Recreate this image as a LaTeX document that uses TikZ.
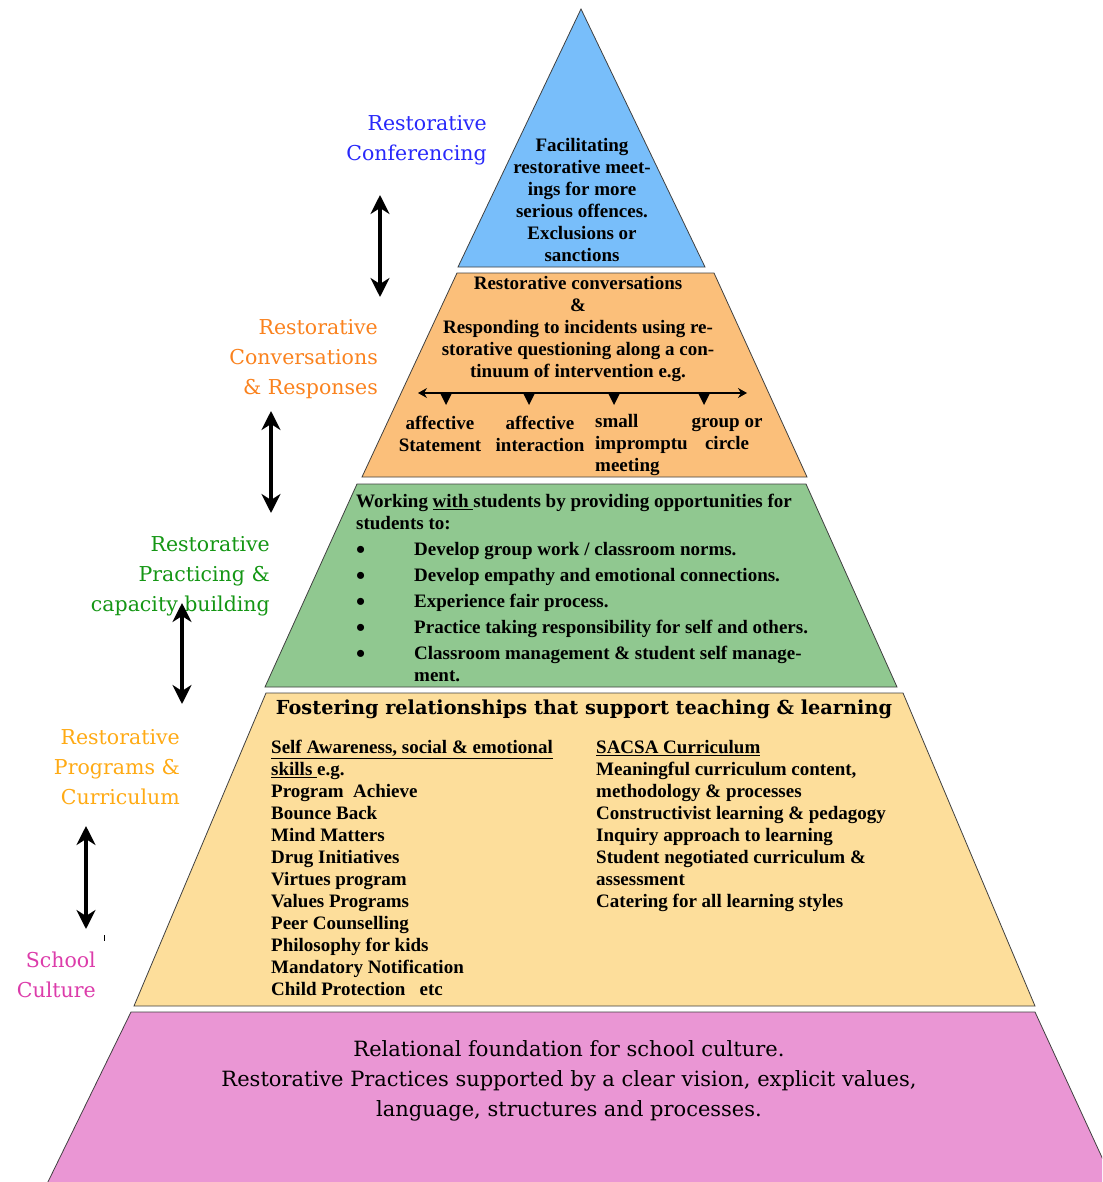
\documentclass[tikz,border=0pt]{standalone}
\usepackage{fontspec}
\usepackage{tikz}
\usetikzlibrary{arrows.meta}
\setmainfont{Liberation Serif}
\newfontfamily\tagserif{DejaVu Serif}
\definecolor{conf}{RGB}{120,190,250}
\definecolor{conv}{RGB}{251,191,122}
\definecolor{prac}{RGB}{144,200,144}
\definecolor{prog}{RGB}{253,222,155}
\definecolor{cult}{RGB}{234,150,212}
\definecolor{confT}{RGB}{40,40,250}
\definecolor{convT}{RGB}{250,130,30}
\definecolor{pracT}{RGB}{20,150,20}
\definecolor{progT}{RGB}{255,170,20}
\definecolor{cultT}{RGB}{220,60,170}
\newcommand{\bodyfont}{\fontsize{19}{22}\selectfont\bfseries}
\newcommand{\tagfont}{\tagserif\fontsize{20.5}{30}\selectfont}
\newcommand{\bigdot}{\raisebox{-2.5pt}{\fontsize{26}{22}\selectfont\textbullet}}

\begin{document}
\begin{tikzpicture}[x=1pt,y=-1pt,
	band/.style={draw=black!75,line width=0.8pt},
	body/.style={font=\bodyfont,align=center,inner sep=0pt},
	tag/.style={font=\tagfont,align=right,anchor=east,inner sep=0pt},
	link/.style={<->,>={Stealth[length=19pt,width=19pt,inset=6pt]},line width=3.6pt}]
	\path[use as bounding box] (0,0) rectangle (1102,1182);
	\clip (0,0) rectangle (1102,1182);
	\filldraw[band,fill=conf] (581,9) -- (705,267) -- (458,267) -- cycle;
	\filldraw[band,fill=conv] (457,273) -- (714,273) -- (807,477) -- (362,477) -- cycle;
	\filldraw[band,fill=prac] (357,484) -- (806,484) -- (897,687) -- (265,687) -- cycle;
	\filldraw[band,fill=prog] (266,693) -- (903,693) -- (1035,1006) -- (134,1006) -- cycle;
	\filldraw[band,fill=cult] (131,1012) -- (1035,1012) -- (1117,1190) -- (44,1190) -- cycle;
	\node[body] (T0) at (582,200) {Facilitating\\restorative meet-\\ings for more\\serious offences.\\Exclusions or\\sanctions};
	\node[body] (T1) at (578,329) {Restorative conversations\\\&\\Responding to incidents using re-\\storative questioning along a con-\\tinuum of intervention e.g.};
	\coordinate (C0) at (418,393);
	\coordinate (C1) at (747,393);
	\draw[<->,>={Stealth[length=9pt,width=10pt,inset=3pt]},line width=1.2pt] (C0) -- (C1);
	\foreach \x in {446,529,614,704}
		\fill (\x-6,393) -- (\x+6,393) -- (\x,405) -- cycle;
	\node[body] (S0) at (440,434) {affective\\Statement};
	\node[body] (S1) at (540,434) {affective\\interaction};
	\node[body,align=left,anchor=west] (S2) at (595,445) {small\\impromptu\\meeting};
	\node[body] (S3) at (727,434) {group or\\circle};
	\node[font=\bodyfont,inner sep=0pt,anchor=north west] (T2) at (356,492) {\begin{tabular}{@{}p{58pt}@{}l@{}}
		\multicolumn{2}{@{}l@{}}{Working \underline{with }students by providing opportunities for}\\
		\multicolumn{2}{@{}l@{}}{students to:}\\[4pt]
		\bigdot & Develop group work / classroom norms.\\[4pt]
		\bigdot & Develop empathy and emotional connections.\\[4pt]
		\bigdot & Experience fair process.\\[4pt]
		\bigdot & Practice taking responsibility for self and others.\\[4pt]
		\bigdot & Classroom management \& student self manage-\\
		& ment.
	\end{tabular}};
	\node[font=\tagserif\bfseries\fontsize{19.3}{24}\selectfont,inner sep=0pt] (T3) at (584,709) {Fostering relationships that support teaching \& learning};
	\node[body,align=left,anchor=north west] (T4) at (271,740) {\underline{Self Awareness, social \& emotional}\\\underline{skills }e.g.\\Program~ Achieve\\Bounce Back\\Mind Matters\\Drug Initiatives\\Virtues program\\Values Programs\\Peer Counselling\\Philosophy for kids\\Mandatory Notification\\Child Protection~~~etc};
	\node[body,align=left,anchor=north west] (T5) at (596,740) {\underline{SACSA Curriculum}\\Meaningful curriculum content,\\methodology \& processes\\Constructivist learning \& pedagogy\\Inquiry approach to learning\\Student negotiated curriculum \&\\assessment\\Catering for all learning styles};
	\node[font=\tagserif\fontsize{21}{30}\selectfont,align=center,inner sep=0pt] (T6) at (569,1081) {Relational foundation for school culture.\\Restorative Practices supported by a clear vision, explicit values,\\language, structures and processes.};
	\node[tag,text=confT] (L0) at (487,140) {Restorative\\Conferencing};
	\node[tag,text=convT] (L1) at (378,359) {Restorative\\Conversations\\\& Responses};
	\node[tag,text=pracT] (L2) at (270,576) {Restorative\\Practicing \&\\capacity building};
	\node[tag,text=progT] (L3) at (180,767) {Restorative\\Programs \&\\Curriculum};
	\node[tag,text=cultT] (L4) at (96,975) {School\\Culture};
	\coordinate (A1) at (380,195);
	\coordinate (B1) at (380,297);
	\coordinate (A2) at (271,411);
	\coordinate (B2) at (271,513);
	\coordinate (A3) at (182,603);
	\coordinate (B3) at (182,704);
	\coordinate (A4) at (86,826);
	\coordinate (B4) at (86,929);
	\draw
	(A1) edge[link] (B1)
	(A2) edge[link] (B2)
	(A3) edge[link] (B3)
	(A4) edge[link] (B4);
	\draw[line width=0.8pt] (104,935) -- (104,941);
\end{tikzpicture}
\end{document}
